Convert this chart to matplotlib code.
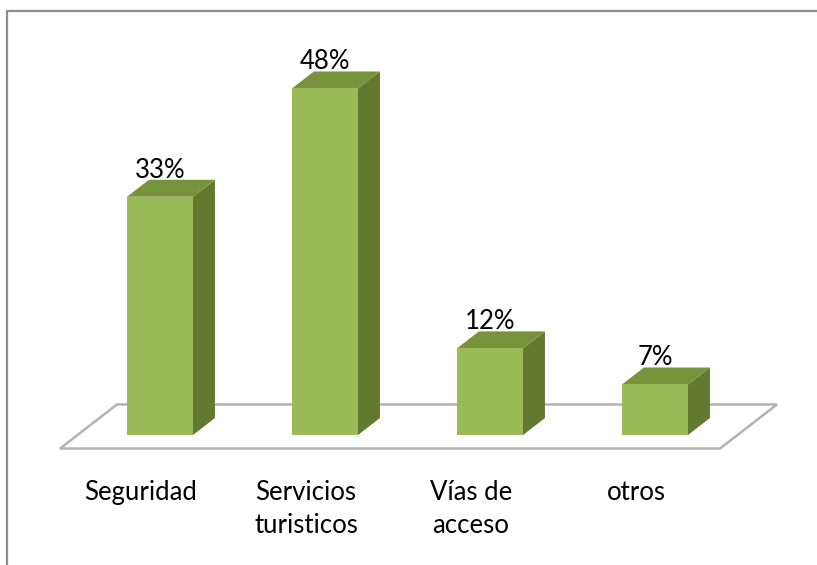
import matplotlib
matplotlib.use("Agg")
import matplotlib.pyplot as plt
from matplotlib.patches import Polygon, Rectangle

categories = ["Seguridad", "Servicios\nturisticos", "Vías de\nacceso", "otros"]
values = [33, 48, 12, 7]
value_labels = ["33%", "48%", "12%", "7%"]

FRONT = "#9bbb59"
TOP = "#77933c"
SIDE = "#617a30"
FLOOR_EDGE = "#b3b3b3"
FRAME = "#8c8c8c"

# pseudo-3d geometry in data units
bar_w = 0.40
bar_dx, bar_dy = 0.133, 2.35
floor_dx, floor_dy = 0.345, 6.1

plt.rcParams["font.family"] = ["Lato", "DejaVu Sans"]

fig = plt.figure(figsize=(8.17, 5.65), dpi=100)
ax = fig.add_axes([0, 0, 1, 1])
ax.set_xlim(-160 / 165, 657 / 165)
ax.set_ylim(-130 / 7.22, 435 / 7.22)
ax.axis("off")

# chart frame (right and bottom edges fall outside the image)
fig.patches.append(Rectangle((7 / 817, -0.1), 1.2, 1 - 11 / 565 + 0.1,
                             transform=fig.transFigure, fill=False,
                             edgecolor=FRAME, linewidth=1.6))

n = len(values)
# floor
fx0 = -0.5 + (bar_dx - floor_dx) / 2
fx1 = n - 0.5 + (bar_dx - floor_dx) / 2
fy0 = (bar_dy - floor_dy) / 2
floor = Polygon([(fx0, fy0), (fx1, fy0), (fx1 + floor_dx, fy0 + floor_dy),
                 (fx0 + floor_dx, fy0 + floor_dy)], closed=True,
                facecolor="white", edgecolor=FLOOR_EDGE, linewidth=1.8,
                joinstyle="miter")
ax.add_patch(floor)

for i, v in enumerate(values):
    l, r = i - bar_w / 2, i + bar_w / 2
    ax.add_patch(Polygon([(r, 0), (r + bar_dx, bar_dy), (r + bar_dx, v + bar_dy), (r, v)],
                         closed=True, facecolor=SIDE, edgecolor="none"))
    ax.add_patch(Polygon([(l, v), (r, v), (r + bar_dx, v + bar_dy), (l + bar_dx, v + bar_dy)],
                         closed=True, facecolor=TOP, edgecolor="none"))
    ax.add_patch(Rectangle((l, 0), bar_w, v, facecolor=FRONT, edgecolor="none"))
    ax.text(i, v + bar_dy + 0.3, value_labels[i], ha="center", va="baseline",
            fontsize=18.5, color="black")
    ax.text(i - 0.115, -6.3, categories[i], ha="center", va="top",
            fontsize=18.5, color="black", linespacing=1.4)

fig.savefig("out.png", dpi=100)
